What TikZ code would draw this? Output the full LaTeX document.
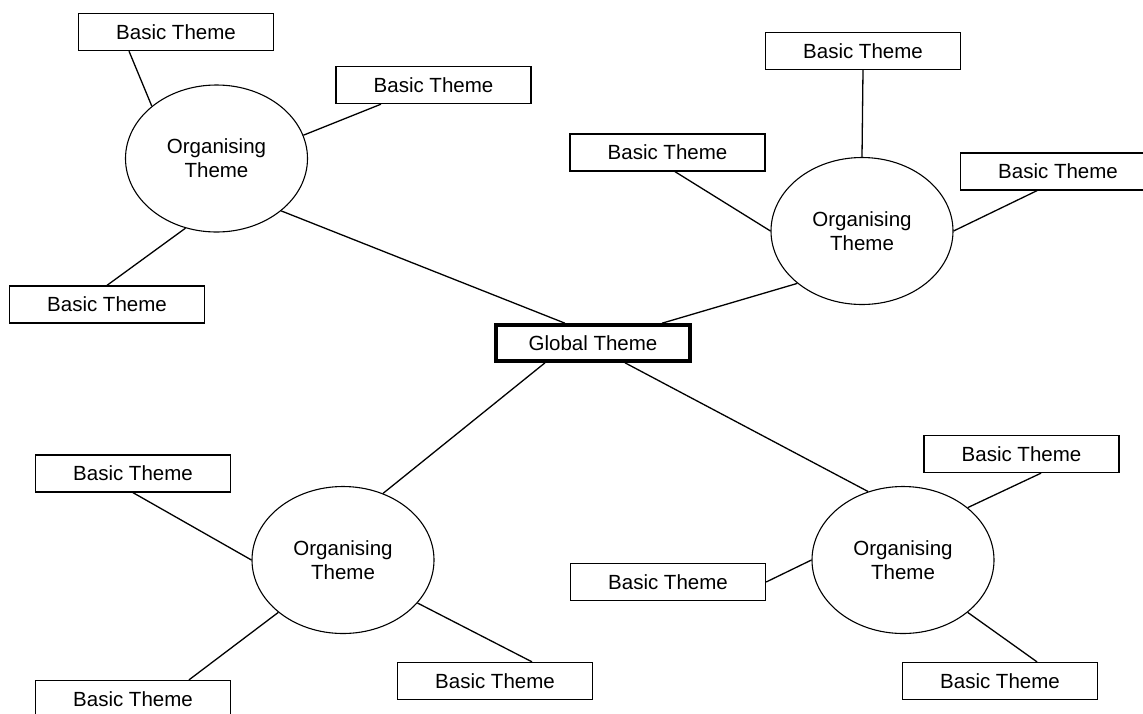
\documentclass[tikz,border=0pt]{standalone}
\usepackage{fontspec}
\setmainfont{Liberation Sans}
\usetikzlibrary{shapes.geometric}
\begin{document}
\begin{tikzpicture}[x=1pt,y=-1pt,
  basicbox/.style={draw, line width=1.3pt, minimum width=195pt, minimum height=37pt,
    inner sep=0pt, font=\fontsize{20.5}{24}\selectfont},
  globalbox/.style={draw, line width=3.6pt, minimum width=194pt, minimum height=36pt,
    inner sep=0pt, font=\fontsize{20.5}{24}\selectfont},
  orgnode/.style={draw, ellipse, line width=1.1pt, minimum width=182pt, minimum height=147pt,
    inner sep=0pt, align=center, font=\fontsize{20.5}{24}\selectfont},
  link/.style={line width=1.3pt}]
\useasboundingbox (0,0) rectangle (1143,713);
\fill[white] (0,0) rectangle (1143,713);
\clip (0,0) rectangle (1143,713);

% global theme
\node[globalbox] (g) at (593,343) {Global Theme};

% organising themes
\node[orgnode] (otl) at (216.5,158.5) {Organising\\Theme};
\node[orgnode] (otr) at (862,231) {Organising\\Theme};
\node[orgnode] (obl) at (343,560) {Organising\\Theme};
\node[orgnode] (obr) at (903,560) {Organising\\Theme};

% basic themes, upper left
\node[basicbox] (tl1) at (176,32) {Basic Theme};
\node[basicbox] (tl2) at (433.5,85) {Basic Theme};
\node[basicbox] (tl3) at (107,304.5) {Basic Theme};
% basic themes, upper right
\node[basicbox] (tr1) at (863,51) {Basic Theme};
\node[basicbox] (tr2) at (667.5,152.5) {Basic Theme};
\node[basicbox] (tr3) at (1058,171.5) {Basic Theme};
% basic themes, lower left
\node[basicbox] (bl1) at (133,473.5) {Basic Theme};
\node[basicbox] (bl2) at (495,681) {Basic Theme};
\node[basicbox] (bl3) at (133,699) {Basic Theme};
% basic themes, lower right
\node[basicbox] (br1) at (1021.5,454) {Basic Theme};
\node[basicbox] (br2) at (668,582) {Basic Theme};
\node[basicbox] (br3) at (1000,681) {Basic Theme};

% global to organising
\draw[link] (otl.321) -- ([xshift=-28pt]g.north);
\draw[link] (otr.219) -- ([xshift=69pt]g.north);
\draw[link] (obl.59.5) -- ([xshift=-48pt]g.south);
\draw[link] (obr.117) -- ([xshift=32pt]g.south);

% organising to basic
\draw[link] (otl.141) -- ([xshift=-47pt]tl1.south);
\draw[link] (otl.15) -- ([xshift=-52.5pt]tl2.south);
\draw[link] (otl.246) -- (tl3.north);

\draw[link] (otr.90) -- (tr1.south);
\draw[link] (otr.180) -- ([xshift=7.5pt]tr2.south);
\draw[link] (otr.0) -- ([xshift=-21pt]tr3.south);

\draw[link] (obl.180) -- (bl1.south);
\draw[link] (obl.330) -- ([xshift=37pt]bl2.north);
\draw[link] (obl.219) -- ([xshift=56pt]bl3.north);

\draw[link] (obr.39) -- ([xshift=19.5pt]br1.south);
\draw[link] (obr.180) -- (br2.east);
\draw[link] (obr.321) -- ([xshift=37pt]br3.north);
\end{tikzpicture}
\end{document}
